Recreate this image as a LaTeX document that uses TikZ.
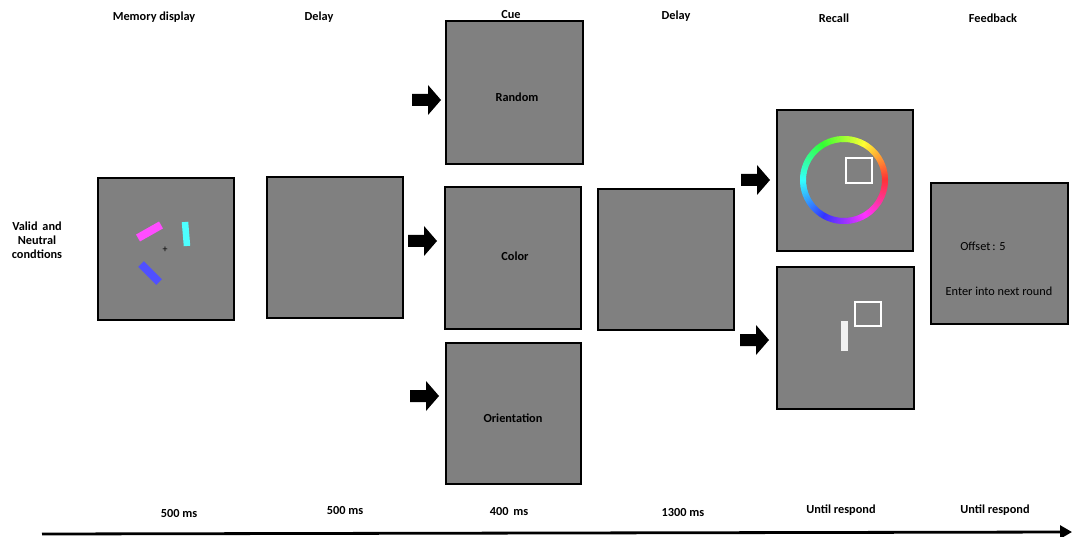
\documentclass[tikz,border=0pt]{standalone}
\usepackage{fontspec}
\setmainfont{Carlito}
\usetikzlibrary{calc,arrows.meta}
\definecolor{scr}{RGB}{128,128,128}
\definecolor{magbar}{RGB}{255,77,255}
\definecolor{cyanbar}{RGB}{77,255,255}
\definecolor{bluebar}{RGB}{80,80,255}
\definecolor{pale}{RGB}{240,240,240}
\begin{document}
\begin{tikzpicture}[x=1pt,y=-1pt,
  screen/.style={draw=black,line width=1.6pt,fill=scr},
  hdr/.style={font=\bfseries\fontsize{12.3}{14}\selectfont,inner sep=0pt},
  plain/.style={font=\fontsize{12.3}{14}\selectfont,inner sep=0pt},
  blockarrow/.pic={\fill[black] (0,-6) -- (16,-6) -- (16,-15) -- (29,0) -- (16,15) -- (16,6) -- (0,6) -- cycle;},
  whitebox/.style={draw=white,line width=1.6pt}]
\useasboundingbox (0,0) rectangle (1078,537);

% screens
\draw[screen] (98,178) rectangle (234,320);
\draw[screen] (267,177) rectangle (403,318);
\draw[screen] (446,21) rectangle (583,164);
\draw[screen] (445,187) rectangle (581,329);
\draw[screen] (446,343) rectangle (581,484);
\draw[screen] (598,189) rectangle (734,330);
\draw[screen] (777,110) rectangle (913,251);
\draw[screen] (777,267) rectangle (914,409);
\draw[screen] (931,183) rectangle (1068,324);

% headers
\node[hdr] (h1) at (154,17) {Memory display};
\node[hdr] (h2) at (319,17) {Delay};
\node[hdr] (h3) at (511,15) {Cue};
\node[hdr] (h4) at (676,16) {Delay};
\node[hdr] (h5) at (834,18) {Recall};
\node[hdr] (h6) at (993,18) {Feedback};

% left label
\node[hdr,align=center] (cond) at (37,240) {Valid\, and\\Neutral\\condtions};

% cue labels
\node[hdr] (cr) at (517,97) {Random};
\node[hdr] (cc) at (515,256) {Color};
\node[hdr] (co) at (513,418) {Orientation};

% memory display items
\draw[magbar,line width=8pt] (138,238) -- (161,225);
\draw[cyanbar,line width=6.5pt] (185,222) -- (187,246);
\draw[bluebar,line width=8pt] (141,264) -- (159,282);
\node[plain,font=\fontsize{10}{10}\selectfont] (fix) at (165,250) {+};

% color wheel
\coordinate (wc) at (844,180);
\foreach \h in {0,2,...,358}{
  \definecolor{hc}{Hsb}{\h,0.8,1}
  \draw[hc,line width=6pt] ($(wc)+(-\h:41)$) arc[start angle=-\h,end angle=-\h-2.6,radius=41];
}
\draw[whitebox] (846,158) rectangle (872,183);

% recall orientation
\draw[whitebox] (855,302) rectangle (881,326);
\fill[pale] (841,321) rectangle (848,351);

% feedback
\node[plain] (off) at (983,246) {Offset\,: 5};
\node[plain] (ent) at (999,291) {Enter into next round};

% block arrows
\pic at (412,100) {blockarrow};
\pic at (408,241) {blockarrow};
\pic at (410,396) {blockarrow};
\pic at (741,180) {blockarrow};
\pic at (740,340) {blockarrow};

% timings
\node[hdr] (t1) at (179,514) {500 ms};
\node[hdr] (t2) at (345,511) {500 ms};
\node[hdr] (t3) at (509,512) {400\, ms};
\node[hdr] (t4) at (683,513) {1300 ms};
\node[hdr] (t5) at (841,510) {Until respond};
\node[hdr] (t6) at (995,510) {Until respond};

% timeline
\coordinate (ts) at (42,534);
\coordinate (te) at (1072,532);
\draw[line width=2.8pt,-{Triangle[length=12pt,width=13pt]}] (ts) -- (te);
\end{tikzpicture}
\end{document}
